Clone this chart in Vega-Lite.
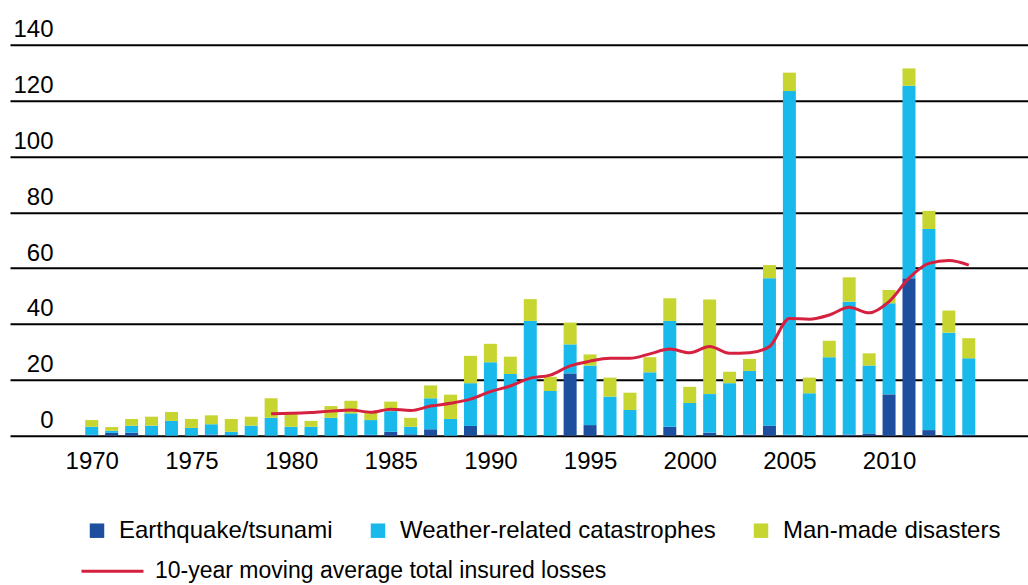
{
  "$schema": "https://vega.github.io/schema/vega-lite/v6.json",
  "width": 1018,
  "height": 391,
  "autosize": {"type": "none"},
  "padding": {"left": 10, "top": 44.7, "right": 0, "bottom": 149.3},
  "background": "white",
  "config": {"view": {"stroke": null}, "font": "Liberation Sans"},
  "datasets": {
    "losses": [
      {"year": 1970, "type": "Earthquake/tsunami", "value": 0.3}, {"year": 1970, "type": "Weather-related catastrophes", "value": 2.9}, {"year": 1970, "type": "Man-made disasters", "value": 2.4},
      {"year": 1971, "type": "Earthquake/tsunami", "value": 1.0}, {"year": 1971, "type": "Weather-related catastrophes", "value": 0.8}, {"year": 1971, "type": "Man-made disasters", "value": 1.3},
      {"year": 1972, "type": "Earthquake/tsunami", "value": 1.1}, {"year": 1972, "type": "Weather-related catastrophes", "value": 2.5}, {"year": 1972, "type": "Man-made disasters", "value": 2.4},
      {"year": 1973, "type": "Earthquake/tsunami", "value": 0.2}, {"year": 1973, "type": "Weather-related catastrophes", "value": 3.4}, {"year": 1973, "type": "Man-made disasters", "value": 3.2},
      {"year": 1974, "type": "Earthquake/tsunami", "value": 0}, {"year": 1974, "type": "Weather-related catastrophes", "value": 5.3}, {"year": 1974, "type": "Man-made disasters", "value": 3.2},
      {"year": 1975, "type": "Earthquake/tsunami", "value": 0}, {"year": 1975, "type": "Weather-related catastrophes", "value": 2.8}, {"year": 1975, "type": "Man-made disasters", "value": 3.2},
      {"year": 1976, "type": "Earthquake/tsunami", "value": 0.4}, {"year": 1976, "type": "Weather-related catastrophes", "value": 3.7}, {"year": 1976, "type": "Man-made disasters", "value": 3.2},
      {"year": 1977, "type": "Earthquake/tsunami", "value": 0.2}, {"year": 1977, "type": "Weather-related catastrophes", "value": 1.2}, {"year": 1977, "type": "Man-made disasters", "value": 4.6},
      {"year": 1978, "type": "Earthquake/tsunami", "value": 0}, {"year": 1978, "type": "Weather-related catastrophes", "value": 3.6}, {"year": 1978, "type": "Man-made disasters", "value": 3.2},
      {"year": 1979, "type": "Earthquake/tsunami", "value": 0}, {"year": 1979, "type": "Weather-related catastrophes", "value": 6.4}, {"year": 1979, "type": "Man-made disasters", "value": 7.0},
      {"year": 1980, "type": "Earthquake/tsunami", "value": 0}, {"year": 1980, "type": "Weather-related catastrophes", "value": 3.2}, {"year": 1980, "type": "Man-made disasters", "value": 5.0},
      {"year": 1981, "type": "Earthquake/tsunami", "value": 0}, {"year": 1981, "type": "Weather-related catastrophes", "value": 3.2}, {"year": 1981, "type": "Man-made disasters", "value": 2.1},
      {"year": 1982, "type": "Earthquake/tsunami", "value": 0}, {"year": 1982, "type": "Weather-related catastrophes", "value": 6.4}, {"year": 1982, "type": "Man-made disasters", "value": 4.2},
      {"year": 1983, "type": "Earthquake/tsunami", "value": 0}, {"year": 1983, "type": "Weather-related catastrophes", "value": 8.0}, {"year": 1983, "type": "Man-made disasters", "value": 4.5},
      {"year": 1984, "type": "Earthquake/tsunami", "value": 0.3}, {"year": 1984, "type": "Weather-related catastrophes", "value": 5.3}, {"year": 1984, "type": "Man-made disasters", "value": 2.6},
      {"year": 1985, "type": "Earthquake/tsunami", "value": 1.4}, {"year": 1985, "type": "Weather-related catastrophes", "value": 7.4}, {"year": 1985, "type": "Man-made disasters", "value": 3.4},
      {"year": 1986, "type": "Earthquake/tsunami", "value": 0.5}, {"year": 1986, "type": "Weather-related catastrophes", "value": 2.7}, {"year": 1986, "type": "Man-made disasters", "value": 3.2},
      {"year": 1987, "type": "Earthquake/tsunami", "value": 2.3}, {"year": 1987, "type": "Weather-related catastrophes", "value": 11.1}, {"year": 1987, "type": "Man-made disasters", "value": 4.6},
      {"year": 1988, "type": "Earthquake/tsunami", "value": 0}, {"year": 1988, "type": "Weather-related catastrophes", "value": 6.0}, {"year": 1988, "type": "Man-made disasters", "value": 8.7},
      {"year": 1989, "type": "Earthquake/tsunami", "value": 3.5}, {"year": 1989, "type": "Weather-related catastrophes", "value": 15.3}, {"year": 1989, "type": "Man-made disasters", "value": 9.8},
      {"year": 1990, "type": "Earthquake/tsunami", "value": 0.5}, {"year": 1990, "type": "Weather-related catastrophes", "value": 25.8}, {"year": 1990, "type": "Man-made disasters", "value": 6.6},
      {"year": 1991, "type": "Earthquake/tsunami", "value": 0}, {"year": 1991, "type": "Weather-related catastrophes", "value": 22.1}, {"year": 1991, "type": "Man-made disasters", "value": 6.2},
      {"year": 1992, "type": "Earthquake/tsunami", "value": 0}, {"year": 1992, "type": "Weather-related catastrophes", "value": 41.1}, {"year": 1992, "type": "Man-made disasters", "value": 7.8},
      {"year": 1993, "type": "Earthquake/tsunami", "value": 0}, {"year": 1993, "type": "Weather-related catastrophes", "value": 16.0}, {"year": 1993, "type": "Man-made disasters", "value": 5.1},
      {"year": 1994, "type": "Earthquake/tsunami", "value": 22.3}, {"year": 1994, "type": "Weather-related catastrophes", "value": 10.4}, {"year": 1994, "type": "Man-made disasters", "value": 7.8},
      {"year": 1995, "type": "Earthquake/tsunami", "value": 3.8}, {"year": 1995, "type": "Weather-related catastrophes", "value": 21.3}, {"year": 1995, "type": "Man-made disasters", "value": 4.0},
      {"year": 1996, "type": "Earthquake/tsunami", "value": 0}, {"year": 1996, "type": "Weather-related catastrophes", "value": 14.0}, {"year": 1996, "type": "Man-made disasters", "value": 6.8},
      {"year": 1997, "type": "Earthquake/tsunami", "value": 0}, {"year": 1997, "type": "Weather-related catastrophes", "value": 9.2}, {"year": 1997, "type": "Man-made disasters", "value": 6.2},
      {"year": 1998, "type": "Earthquake/tsunami", "value": 0}, {"year": 1998, "type": "Weather-related catastrophes", "value": 22.7}, {"year": 1998, "type": "Man-made disasters", "value": 5.4},
      {"year": 1999, "type": "Earthquake/tsunami", "value": 3.2}, {"year": 1999, "type": "Weather-related catastrophes", "value": 37.9}, {"year": 1999, "type": "Man-made disasters", "value": 8.1},
      {"year": 2000, "type": "Earthquake/tsunami", "value": 0}, {"year": 2000, "type": "Weather-related catastrophes", "value": 11.7}, {"year": 2000, "type": "Man-made disasters", "value": 5.8},
      {"year": 2001, "type": "Earthquake/tsunami", "value": 1.1}, {"year": 2001, "type": "Weather-related catastrophes", "value": 13.8}, {"year": 2001, "type": "Man-made disasters", "value": 33.9},
      {"year": 2002, "type": "Earthquake/tsunami", "value": 0}, {"year": 2002, "type": "Weather-related catastrophes", "value": 18.8}, {"year": 2002, "type": "Man-made disasters", "value": 4.1},
      {"year": 2003, "type": "Earthquake/tsunami", "value": 0.4}, {"year": 2003, "type": "Weather-related catastrophes", "value": 22.8}, {"year": 2003, "type": "Man-made disasters", "value": 4.3},
      {"year": 2004, "type": "Earthquake/tsunami", "value": 3.6}, {"year": 2004, "type": "Weather-related catastrophes", "value": 52.8}, {"year": 2004, "type": "Man-made disasters", "value": 4.7},
      {"year": 2005, "type": "Earthquake/tsunami", "value": 0.3}, {"year": 2005, "type": "Weather-related catastrophes", "value": 123.1}, {"year": 2005, "type": "Man-made disasters", "value": 6.6},
      {"year": 2006, "type": "Earthquake/tsunami", "value": 0}, {"year": 2006, "type": "Weather-related catastrophes", "value": 15.2}, {"year": 2006, "type": "Man-made disasters", "value": 5.6},
      {"year": 2007, "type": "Earthquake/tsunami", "value": 0.2}, {"year": 2007, "type": "Weather-related catastrophes", "value": 27.9}, {"year": 2007, "type": "Man-made disasters", "value": 5.9},
      {"year": 2008, "type": "Earthquake/tsunami", "value": 0.4}, {"year": 2008, "type": "Weather-related catastrophes", "value": 47.6}, {"year": 2008, "type": "Man-made disasters", "value": 8.7},
      {"year": 2009, "type": "Earthquake/tsunami", "value": 0.8}, {"year": 2009, "type": "Weather-related catastrophes", "value": 24.3}, {"year": 2009, "type": "Man-made disasters", "value": 4.4},
      {"year": 2010, "type": "Earthquake/tsunami", "value": 14.8}, {"year": 2010, "type": "Weather-related catastrophes", "value": 32.6}, {"year": 2010, "type": "Man-made disasters", "value": 4.8},
      {"year": 2011, "type": "Earthquake/tsunami", "value": 56.4}, {"year": 2011, "type": "Weather-related catastrophes", "value": 68.9}, {"year": 2011, "type": "Man-made disasters", "value": 6.2},
      {"year": 2012, "type": "Earthquake/tsunami", "value": 2.0}, {"year": 2012, "type": "Weather-related catastrophes", "value": 72.0}, {"year": 2012, "type": "Man-made disasters", "value": 6.5},
      {"year": 2013, "type": "Earthquake/tsunami", "value": 0}, {"year": 2013, "type": "Weather-related catastrophes", "value": 36.9}, {"year": 2013, "type": "Man-made disasters", "value": 7.9},
      {"year": 2014, "type": "Earthquake/tsunami", "value": 0.3}, {"year": 2014, "type": "Weather-related catastrophes", "value": 27.4}, {"year": 2014, "type": "Man-made disasters", "value": 7.2}
    ],
    "avg": [
      {"year": 1979, "avg": 7.9, "series": "10-year moving average total insured losses"},
      {"year": 1980, "avg": 8.0, "series": "10-year moving average total insured losses"},
      {"year": 1981, "avg": 8.3, "series": "10-year moving average total insured losses"},
      {"year": 1982, "avg": 8.8, "series": "10-year moving average total insured losses"},
      {"year": 1983, "avg": 9.2, "series": "10-year moving average total insured losses"},
      {"year": 1984, "avg": 8.4, "series": "10-year moving average total insured losses"},
      {"year": 1985, "avg": 9.5, "series": "10-year moving average total insured losses"},
      {"year": 1986, "avg": 9.0, "series": "10-year moving average total insured losses"},
      {"year": 1987, "avg": 10.6, "series": "10-year moving average total insured losses"},
      {"year": 1988, "avg": 11.6, "series": "10-year moving average total insured losses"},
      {"year": 1989, "avg": 13.1, "series": "10-year moving average total insured losses"},
      {"year": 1990, "avg": 15.8, "series": "10-year moving average total insured losses"},
      {"year": 1991, "avg": 17.8, "series": "10-year moving average total insured losses"},
      {"year": 1992, "avg": 20.6, "series": "10-year moving average total insured losses"},
      {"year": 1993, "avg": 21.7, "series": "10-year moving average total insured losses"},
      {"year": 1994, "avg": 25.0, "series": "10-year moving average total insured losses"},
      {"year": 1995, "avg": 26.7, "series": "10-year moving average total insured losses"},
      {"year": 1996, "avg": 27.7, "series": "10-year moving average total insured losses"},
      {"year": 1997, "avg": 27.7, "series": "10-year moving average total insured losses"},
      {"year": 1998, "avg": 29.3, "series": "10-year moving average total insured losses"},
      {"year": 1999, "avg": 31.0, "series": "10-year moving average total insured losses"},
      {"year": 2000, "avg": 29.7, "series": "10-year moving average total insured losses"},
      {"year": 2001, "avg": 31.9, "series": "10-year moving average total insured losses"},
      {"year": 2002, "avg": 29.5, "series": "10-year moving average total insured losses"},
      {"year": 2003, "avg": 29.7, "series": "10-year moving average total insured losses"},
      {"year": 2004, "avg": 31.9, "series": "10-year moving average total insured losses"},
      {"year": 2005, "avg": 42.0, "series": "10-year moving average total insured losses"},
      {"year": 2006, "avg": 41.7, "series": "10-year moving average total insured losses"},
      {"year": 2007, "avg": 43.2, "series": "10-year moving average total insured losses"},
      {"year": 2008, "avg": 46.0, "series": "10-year moving average total insured losses"},
      {"year": 2009, "avg": 44.0, "series": "10-year moving average total insured losses"},
      {"year": 2010, "avg": 48.0, "series": "10-year moving average total insured losses"},
      {"year": 2011, "avg": 56.4, "series": "10-year moving average total insured losses"},
      {"year": 2012, "avg": 61.7, "series": "10-year moving average total insured losses"},
      {"year": 2013, "avg": 62.7, "series": "10-year moving average total insured losses"},
      {"year": 2014, "avg": 61.1, "series": "10-year moving average total insured losses"}
    ]
  },
  "layer": [
    {
      "data": {"name": "losses"},
      "transform": [
        {"calculate": "indexof(['Earthquake/tsunami', 'Weather-related catastrophes', 'Man-made disasters'], datum.type)", "as": "stackIdx"}
      ],
      "mark": {"type": "bar", "size": 13},
      "encoding": {
        "x": {
          "field": "year", "type": "quantitative",
          "scale": {"domain": [1966.15, 2016.72], "nice": false, "zero": false},
          "axis": {"values": [1970, 1975, 1980, 1985, 1990, 1995, 2000, 2005, 2010], "format": "d", "grid": false, "domain": false, "ticks": false, "labelFontSize": 24, "labelPadding": 14, "labelColor": "black", "labelFlush": false, "labelOverlap": false, "title": null}
        },
        "y": {
          "field": "value", "type": "quantitative", "stack": "zero",
          "scale": {"domain": [0, 140], "nice": false},
          "axis": {"values": [0, 20, 40, 60, 80, 100, 120, 140], "grid": true, "gridColor": "black", "gridWidth": 2, "gridOpacity": 1, "domain": false, "ticks": false, "tickSize": 0, "labelAlign": "right", "labelBaseline": "alphabetic", "labelPadding": -43, "labelOffset": -8, "labelFontSize": 24, "labelColor": "black", "labelOverlap": false, "title": null}
        },
        "order": {"field": "stackIdx", "type": "quantitative", "sort": "ascending"},
        "color": {
          "field": "type", "type": "nominal",
          "sort": ["Earthquake/tsunami", "Weather-related catastrophes", "Man-made disasters"],
          "scale": {"domain": ["Earthquake/tsunami", "Weather-related catastrophes", "Man-made disasters"], "range": ["#1d4f9e", "#19b9ec", "#c6d52f"]},
          "legend": {"orient": "none", "legendX": 75, "legendY": 474, "direction": "horizontal", "title": null, "symbolType": "square", "symbolSize": 210, "symbolStrokeWidth": 0, "labelFontSize": 24, "labelOffset": 10, "columnPadding": 33, "padding": 0, "labelColor": "black", "labelLimit": 0}
        }
      }
    },
    {
      "data": {"name": "avg"},
      "mark": {"type": "line", "strokeWidth": 3, "interpolate": "monotone"},
      "encoding": {
        "x": {"field": "year", "type": "quantitative"},
        "y": {"field": "avg", "type": "quantitative"},
        "stroke": {
          "field": "series", "type": "nominal",
          "scale": {"range": ["#d6203f"]},
          "legend": {"orient": "none", "legendX": 70, "legendY": 494, "title": null, "symbolType": "stroke", "symbolSize": 3844, "symbolStrokeWidth": 3, "labelFontSize": 23, "labelOffset": 10, "padding": 0, "labelColor": "black", "labelLimit": 0}
        }
      }
    }
  ]
}
